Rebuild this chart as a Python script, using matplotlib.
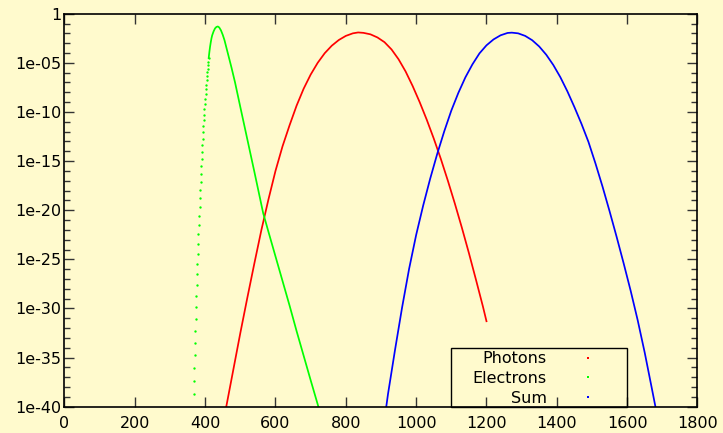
import numpy as np
import matplotlib
matplotlib.use("Agg")
import matplotlib.pyplot as plt
from matplotlib.patches import Rectangle
from matplotlib.lines import Line2D
from matplotlib.ticker import NullFormatter

# values (y stored as log10)
photons_x = [460, 480, 500, 520, 540, 560, 580, 600, 620, 640, 660, 680, 700, 720, 740,
             760, 780, 800, 820, 835, 850, 870, 890, 910, 930, 950, 970, 990, 1010, 1030,
             1050, 1070, 1090, 1110, 1130, 1150, 1170, 1190, 1200]
photons_log = [-40.0, -36.25, -32.5, -28.9, -25.4, -22.0, -18.9, -16.0, -13.5, -11.36,
               -9.36, -7.64, -6.2, -5.0, -4.02, -3.26, -2.68, -2.26, -2.0, -1.91, -1.95,
               -2.1, -2.42, -2.9, -3.64, -4.64, -5.88, -7.36, -9.0, -10.78, -12.7, -14.76,
               -16.98, -19.32, -21.78, -24.36, -27.06, -29.82, -31.3]

# electrons: sparse steep edge (one dot per unit) then the dense part
electrons_edge_x = list(range(367, 411))
electrons_edge_log = [-38.74, -37.38, -36.09, -34.77, -33.52, -32.26, -31.07, -29.89,
                      -28.73, -27.61, -26.53, -25.48, -24.42, -23.44, -22.46, -21.51,
                      -20.56, -19.64, -18.76, -17.91, -17.10, -16.32, -15.53, -14.79,
                      -14.08, -13.40, -12.72, -12.07, -11.46, -10.85, -10.28, -9.73,
                      -9.22, -8.68, -8.17, -7.70, -7.22, -6.78, -6.34, -5.97, -5.59,
                      -5.26, -4.88, -4.52]
electrons_x = [410, 412, 414, 416, 418, 420, 424, 428, 432, 436, 440, 445, 450, 455,
               460, 465, 470, 475, 480, 485, 500, 520, 540, 565, 580, 600, 620, 640,
               660, 680, 700, 722]
electrons_log = [-4.52, -3.9, -3.35, -2.9, -2.5, -2.2, -1.8, -1.5, -1.35, -1.3, -1.4,
                 -1.7, -2.15, -2.7, -3.4, -4.1, -4.8, -5.5, -6.25, -7.0, -9.5, -12.8,
                 -16.1, -20.3, -22.2, -24.7, -27.2, -29.7, -32.3, -34.8, -37.3, -40.0]

sum_x = [915, 920, 940, 960, 980, 1000, 1020, 1040, 1060, 1080, 1100, 1120, 1140, 1160,
         1180, 1200, 1220, 1240, 1260, 1272, 1290, 1310, 1330, 1350, 1370, 1390, 1410,
         1430, 1450, 1470, 1490, 1510, 1530, 1550, 1570, 1590, 1610, 1630, 1650, 1670,
         1681]
sum_log = [-40.0, -38.7, -34.2, -29.9, -25.96, -22.52, -19.52, -16.78, -14.26, -11.96,
           -9.86, -8.06, -6.48, -5.16, -4.04, -3.22, -2.62, -2.2, -1.96, -1.93, -2.0,
           -2.26, -2.7, -3.34, -4.18, -5.22, -6.46, -7.9, -9.5, -11.2, -13.05, -15.25,
           -17.6, -20.1, -22.7, -25.4, -28.2, -31.2, -34.5, -38.1, -40.1]

labels = ["Photons", "Electrons", "Sum"]
colors_ = ["#ff0000", "#00ff00", "#0000ff"]

major_exp = [0, -5, -10, -15, -20, -25, -30, -35, -40]
major_labels = ["1", "1e-05", "1e-10", "1e-15", "1e-20", "1e-25", "1e-30", "1e-35", "1e-40"]

bg = "#fffacd"
fs = 11.5
plt.rcParams['font.family'] = ['DejaVu Sans']
fig = plt.figure(figsize=(7.23, 4.33), dpi=100, facecolor=bg)
ax = fig.add_axes([0.0892, 0.0607, 0.8755, 0.9077])
ax.set_facecolor(bg)

ax.plot(photons_x, 10.0 ** np.array(photons_log), color=colors_[0], lw=1.25)
ax.plot(electrons_edge_x, 10.0 ** np.array(electrons_edge_log), ls='none',
        marker='o', ms=1.7, mew=0, color=colors_[1])
ax.plot(electrons_x, 10.0 ** np.array(electrons_log), color=colors_[1], lw=1.25)
ax.plot(sum_x, 10.0 ** np.array(sum_log), color=colors_[2], lw=1.25)

ax.set_yscale('log')
ax.set_xlim(0, 1800)
ax.set_ylim(1e-40, 1)
ax.set_xticks(range(0, 1801, 200))
ax.set_yticks([10.0 ** e for e in major_exp], major_labels)
ax.set_yticks([10.0 ** -e for e in range(1, 40) if e % 5], minor=True)
ax.yaxis.set_minor_formatter(NullFormatter())
ax.tick_params(which='both', direction='in', top=True, right=True, color='#333333',
               labelsize=fs, labelcolor='black')
ax.tick_params(which='major', length=7, width=1)
ax.tick_params(which='minor', length=4, width=1)
ax.tick_params(axis='x', pad=7)
ax.tick_params(axis='y', pad=2)
for s in ax.spines.values():
    s.set_linewidth(1.2)
    s.set_color('black')

handles = [Line2D([], [], ls='none', marker='s', ms=1.5, mew=0, color=c) for c in colors_]
leg = ax.legend(handles, labels, loc='lower right', bbox_to_anchor=(0.867, -0.0097),
                frameon=False, markerfirst=False, handlelength=2.6, handletextpad=1.26,
                borderpad=0.3, labelspacing=0.3, fontsize=fs, borderaxespad=0)
ax.add_patch(Rectangle((0.6106, 0), 0.2785, 0.1486, transform=ax.transAxes,
                       fill=False, edgecolor='black', lw=1.0, zorder=5, clip_on=False))

fig.savefig("out.png", dpi=100, facecolor=bg)
